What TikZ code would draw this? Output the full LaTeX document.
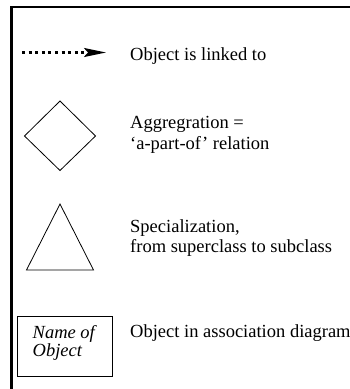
\documentclass[tikz,border=0pt]{standalone}
\usepackage{fontspec}
\setmainfont{Liberation Serif}
\usepackage{tikz}
\usetikzlibrary{arrows.meta}

\begin{document}
\begin{tikzpicture}[x=1pt, y=-1pt, every node/.style={font=\fontsize{18.5}{20.5}\selectfont, inner sep=0pt}]
	\useasboundingbox (0,0) rectangle (350,389);
	% frame, only the top and left edges are seen
	\draw[line width=2.6pt] (11.3,389) -- (11.3,7) -- (350,7);
	
	% dotted link arrow
	\coordinate (from) at (22,52.5);
	\coordinate (to) at (106,52.5);
	\draw[line width=2.1pt, dash pattern=on 3pt off 3.6pt, -{Stealth[length=22pt, width=9pt, inset=4pt]}] (from) -- (to);
	\node[anchor=base west] (linked) at (130,60) {Object is linked to};
	
	% aggregation diamond
	\draw[line width=0.8pt] (60,101) -- (95.5,136) -- (60,170.5) -- (24.5,136) -- cycle;
	\node[anchor=base west, align=left] (aggr) at (130,149.3) {Aggregration =\\‘a-part-of’ relation};
	
	% specialization triangle
	\draw[line width=0.8pt] (60,204) -- (93.5,270) -- (26.5,270) -- cycle;
	\node[anchor=base west, align=left] (spec) at (130,252.7) {Specialization,\\from superclass to subclass};
	
	% object box
	\node[draw, line width=1pt, minimum width=95pt, minimum height=59.5pt] (obj) at (65,346.3) {};
	\node[anchor=base west, align=left, font=\fontsize{18.5}{16.7}\selectfont\itshape] (objname) at (32.5,356.7) {Name of\\Object};
	\node[anchor=base west] (assoc) at (130,337) {Object in association diagram};
\end{tikzpicture}
\end{document}
